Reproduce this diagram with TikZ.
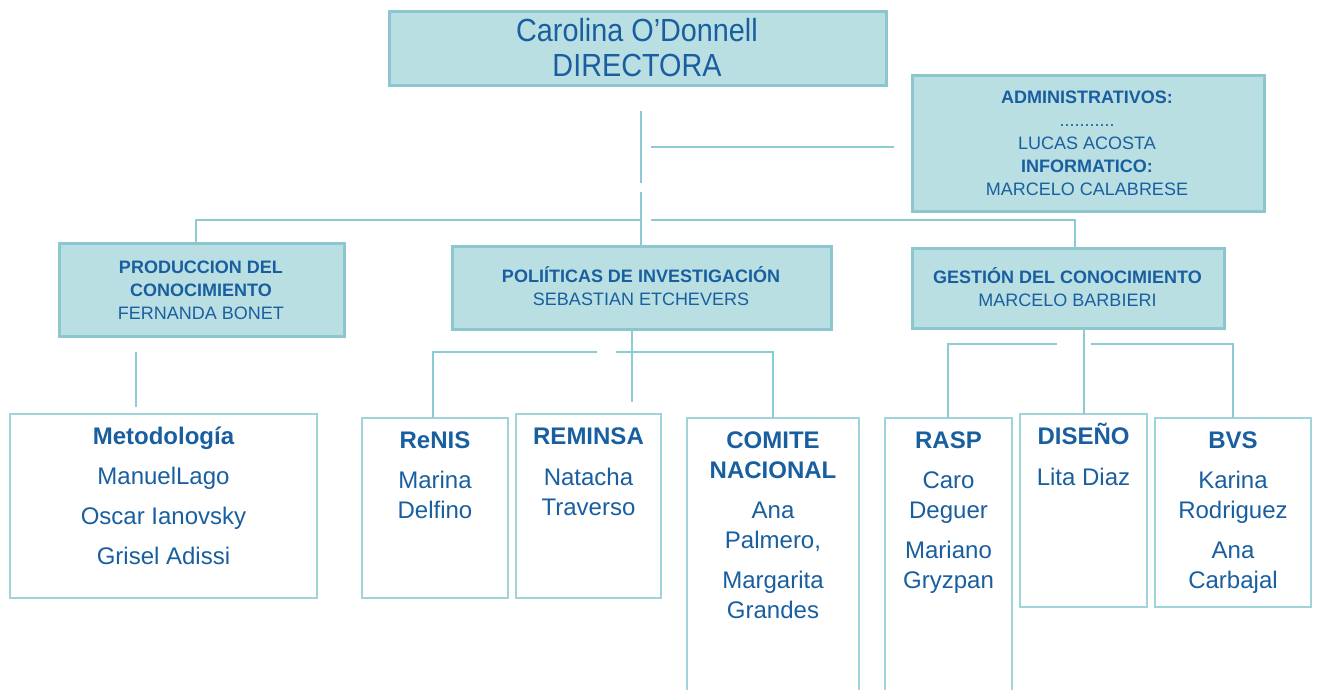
\documentclass[tikz,border=0pt]{standalone}
\usepackage{fontspec}
\setmainfont{Liberation Sans}
\newfontfamily\dirfont[FakeStretch=0.9]{Liberation Sans}
\definecolor{txtblue}{RGB}{25,95,160}
\definecolor{tealfill}{RGB}{186,223,227}
\definecolor{tealedge}{RGB}{140,199,207}
\definecolor{connc}{RGB}{140,203,211}
\definecolor{wedge}{RGB}{160,212,219}
\begin{document}
\begin{tikzpicture}[x=1pt,y=-1pt,
  tbox/.style={rectangle,draw=tealedge,fill=tealfill,line width=3pt,inner sep=0pt,outer sep=0pt},
  wbox/.style={rectangle,draw=wedge,fill=white,line width=1.2pt,inner sep=0pt,outer sep=0pt},
  conn/.style={draw=connc,line width=1.5pt},
  ttxt/.style={text=txtblue,align=center,inner sep=0pt,anchor=north,font=\fontsize{18}{23}\selectfont},
  btxt/.style={text=txtblue,align=center,inner sep=0pt,anchor=north,font=\fontsize{24}{30}\selectfont}]
\useasboundingbox (0,0) rectangle (1317,689);
\fill[white] (0,0) rectangle (1317,689);
\clip (0,0) rectangle (1317,689);

% top level boxes
\node[tbox,minimum width=497pt,minimum height=74pt] (dir) at (637.5,48) {};
\node[text=txtblue,align=center,inner sep=0pt,anchor=north,font=\dirfont\fontsize{32}{35}\selectfont] (dirt) at (637,11) {\rule{0pt}{30pt}Carolina O’Donnell\\DIRECTORA};

\node[tbox,minimum width=352pt,minimum height=136pt] (adm) at (1088,143) {};
\node[ttxt] (admt) at (1087,85) {\rule{0pt}{18pt}\textbf{ADMINISTRATIVOS:}\\...........\\LUCAS ACOSTA\\\textbf{INFORMATICO:}\\MARCELO CALABRESE};

\node[tbox,minimum width=285pt,minimum height=93pt] (pc) at (201.5,289.5) {};
\node[ttxt] (pct) at (201,255) {\rule{0pt}{18pt}\textbf{PRODUCCION DEL}\\\textbf{CONOCIMIENTO}\\FERNANDA BONET};

\node[tbox,minimum width=379pt,minimum height=83pt] (pi) at (641.5,287.5) {};
\node[ttxt] (pit) at (641,264) {\rule{0pt}{18pt}\textbf{POLIÍTICAS DE INVESTIGACIÓN}\\SEBASTIAN ETCHEVERS};

\node[tbox,minimum width=312pt,minimum height=80pt] (gc) at (1068,288) {};
\node[ttxt] (gct) at (1067.5,265) {\rule{0pt}{18pt}\textbf{GESTIÓN DEL CONOCIMIENTO}\\MARCELO BARBIERI};

% bottom boxes
\node[wbox,minimum width=307pt,minimum height=184pt] (met) at (163.5,506) {};
\node[btxt] (mett) at (163.5,420) {\rule{0pt}{24pt}\textbf{Metodología}\\[10pt]ManuelLago\\[10pt]Oscar Ianovsky\\[10pt]Grisel Adissi};

\node[wbox,minimum width=146pt,minimum height=180pt] (renis) at (435,508) {};
\node[btxt] (renist) at (435,424) {\rule{0pt}{24pt}\textbf{ReNIS}\\[10pt]Marina\\Delfino};

\node[wbox,minimum width=145pt,minimum height=184pt] (reminsa) at (588.5,506) {};
\node[btxt] (reminsat) at (588.5,420) {\rule{0pt}{24pt}\textbf{REMINSA}\\[11pt]Natacha\\Traverso};

\node[wbox,minimum width=172pt,minimum height=282pt] (comite) at (773,559) {};
\node[btxt] (comitet) at (773,424) {\rule{0pt}{24pt}\textbf{COMITE}\\\textbf{NACIONAL}\\[10pt]Ana\\Palmero,\\[10pt]Margarita\\Grandes};

\node[wbox,minimum width=127pt,minimum height=282pt] (rasp) at (948.5,559) {};
\node[btxt] (raspt) at (948.5,424) {\rule{0pt}{24pt}\textbf{RASP}\\[10pt]Caro\\Deguer\\[10pt]Mariano\\Gryzpan};

\node[wbox,minimum width=127pt,minimum height=193pt] (diseno) at (1083.5,510.5) {};
\node[btxt] (disenot) at (1083.5,420) {\rule{0pt}{24pt}\textbf{DISEÑO}\\[11pt]Lita Diaz};

\node[wbox,minimum width=156pt,minimum height=189pt] (bvs) at (1233,512.5) {};
\node[btxt] (bvst) at (1233,424) {\rule{0pt}{24pt}\textbf{BVS}\\[10pt]Karina\\Rodriguez\\[10pt]Ana\\Carbajal};

% connector points
\coordinate (d1) at (641,111);
\coordinate (d2) at (641,183);
\coordinate (d3) at (641,192);
\coordinate (a1) at (651,147);
\coordinate (a2) at (894,147);
\coordinate (l1) at (641,220);
\coordinate (l2) at (196,220);
\coordinate (r1) at (651,220);
\coordinate (r2) at (1075,220);
\coordinate (p1) at (136,352);
\coordinate (p2) at (136,407);
\coordinate (q1) at (632,402);
\coordinate (q2) at (597,352);
\coordinate (q3) at (433,352);
\coordinate (q4) at (616,352);
\coordinate (q5) at (773,352);
\coordinate (g0) at (1084,329);
\coordinate (g1) at (1057,344);
\coordinate (g2) at (948,344);
\coordinate (g3) at (1091,344);
\coordinate (g4) at (1233,344);

\draw[conn] (d1) -- (d2);
\draw[conn] (d3) -- (d3 |- pi.north);
\draw[conn] (a1) -- (a2);
\draw[conn] (l1) -- (l2) -- (l2 |- pc.north);
\draw[conn] (r1) -- (r2) -- (r2 |- gc.north);
\draw[conn] (p1) -- (p2);
\draw[conn] (q1 |- pi.south) -- (q1);
\draw[conn] (q2) -- (q3) -- (q3 |- renis.north);
\draw[conn] (q4) -- (q5) -- (q5 |- comite.north);
\draw[conn] (g0 |- gc.south) -- (g0 |- diseno.north);
\draw[conn] (g1) -- (g2) -- (g2 |- rasp.north);
\draw[conn] (g3) -- (g4) -- (g4 |- bvs.north);
\end{tikzpicture}
\end{document}
